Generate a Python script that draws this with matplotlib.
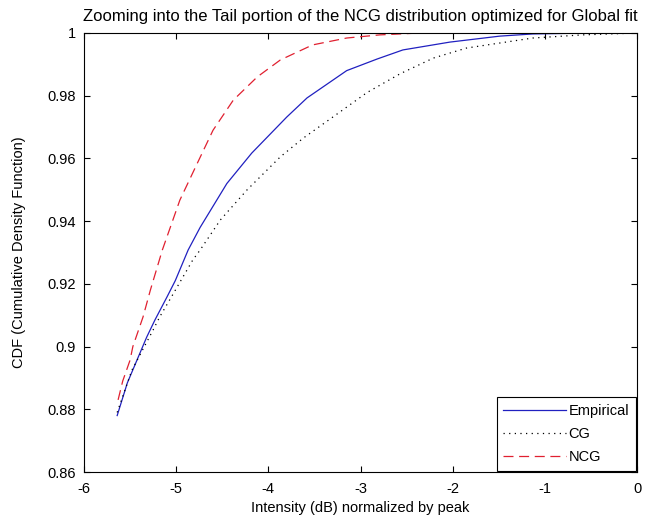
import matplotlib
matplotlib.use('Agg')
import matplotlib.pyplot as plt

plt.rcParams['font.family'] = ['Liberation Sans', 'DejaVu Sans']

# values
emp_x = [-5.64, -5.53, -5.32, -5.23, -5.10, -5.01, -4.87, -4.74, -4.45, -4.18,
         -3.80, -3.58, -3.15, -2.82, -2.54, -2.03, -1.49, -1.13, -0.5, 0.0]
emp_y = [0.878, 0.8884, 0.903, 0.9085, 0.9158, 0.921, 0.9308, 0.938, 0.952, 0.9617,
         0.9732, 0.9793, 0.988, 0.9917, 0.9946, 0.9971, 0.999, 0.9997, 1.0, 1.0]

cg_x = [-5.64, -5.48, -5.25, -5.18, -5.07, -4.82, -4.74, -4.52, -4.23, -3.87,
        -3.62, -3.30, -2.93, -2.57, -2.21, -1.85, -1.49, -1.13, -0.59, 0.0]
cg_y = [0.879, 0.8925, 0.9053, 0.9094, 0.9149, 0.9276, 0.9308, 0.9404, 0.950, 0.9605,
        0.9665, 0.9732, 0.981, 0.987, 0.992, 0.9952, 0.9968, 0.9984, 0.9994, 1.0]

ncg_x = [-5.63, -5.58, -5.50, -5.47, -5.36, -5.28, -5.15, -4.96, -4.77, -4.60,
         -4.38, -4.12, -3.87, -3.52, -3.15, -2.79, -2.36, -1.5, 0.0]
ncg_y = [0.883, 0.889, 0.8957, 0.900, 0.9094, 0.918, 0.9308, 0.9467, 0.9585, 0.969,
         0.9786, 0.986, 0.9914, 0.9962, 0.9984, 0.9994, 1.0, 1.0, 1.0]

fs = 10.5

fig = plt.figure(figsize=(6.49, 5.21), dpi=100)
ax = fig.add_axes([84 / 649, 49 / 521, 553 / 649, 439 / 521])

ax.plot(emp_x, emp_y, color='#2020c0', lw=0.9, label='Empirical')
ax.plot(cg_x, cg_y, color='black', lw=0.9, dashes=(1, 3.5), label='CG')
ax.plot(ncg_x, ncg_y, color='#e02030', lw=0.9, dashes=(8, 4.5), label='NCG')

ax.set_xlim(-6, 0)
ax.set_ylim(0.86, 1.0)
ax.set_xticks([-6, -5, -4, -3, -2, -1, 0])
ax.set_xticklabels(['-6', '-5', '-4', '-3', '-2', '-1', '0'])
ax.set_yticks([0.86, 0.88, 0.9, 0.92, 0.94, 0.96, 0.98, 1.0])
ax.set_yticklabels(['0.86', '0.88', '0.9', '0.92', '0.94', '0.96', '0.98', '1'])
ax.tick_params(direction='in', top=True, right=True, length=4, width=0.8,
               labelsize=fs)
ax.tick_params(axis='y', pad=6)
ax.tick_params(axis='x', pad=7)
for s in ax.spines.values():
    s.set_linewidth(0.8)

ax.set_title('Zooming into the Tail portion of the NCG distribution optimized for Global fit',
             fontsize=12, pad=9)
ax.set_xlabel('Intensity (dB) normalized by peak', fontsize=fs, labelpad=4)
ax.set_ylabel('CDF (Cumulative Density Function)', fontsize=fs, labelpad=15)

leg = ax.legend(loc='lower right', fontsize=fs, fancybox=False, framealpha=1,
                edgecolor='black', borderaxespad=0.1, handlelength=4.3,
                handletextpad=0.15, labelspacing=0.62, borderpad=0.45)
leg.get_frame().set_linewidth(0.8)

fig.savefig('out.png', dpi=100)
